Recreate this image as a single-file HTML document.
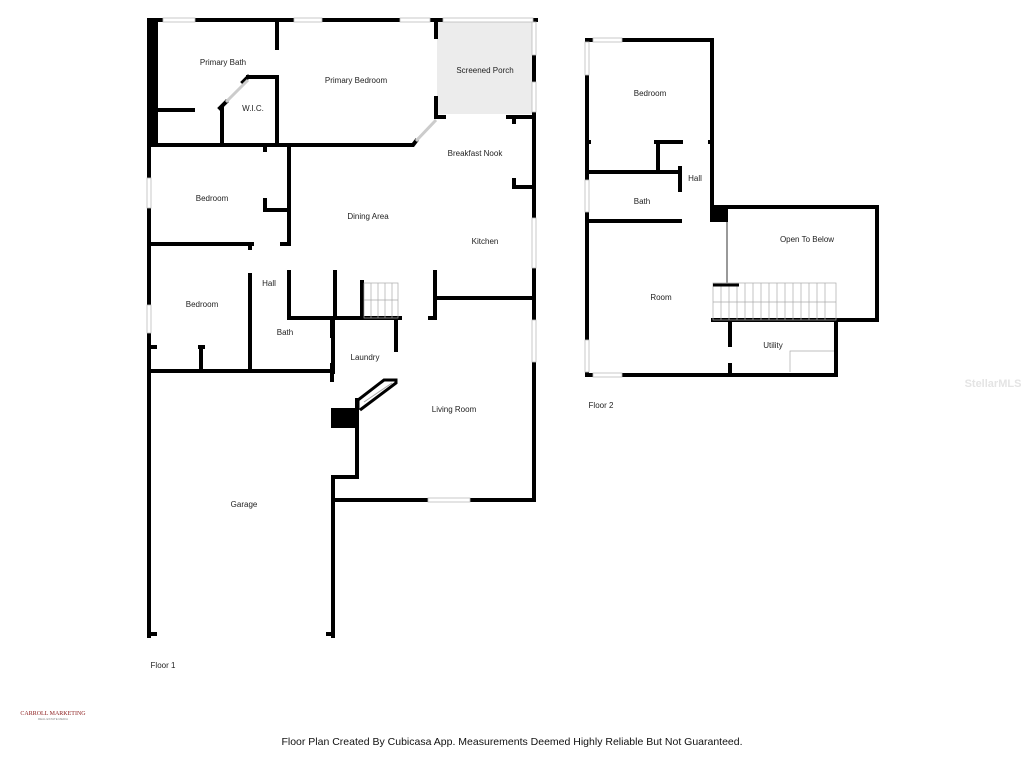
<!DOCTYPE html>
<html><head><style>
body{margin:0;width:1024px;height:768px;background:#fff;overflow:hidden}
text{font-family:"Liberation Sans",sans-serif;font-size:8px;fill:#222;text-anchor:middle}
</style></head><body>
<svg width="1024" height="768" viewBox="0 0 1024 768">
<rect x="437" y="22" width="97" height="92" fill="#ececec"/>
<g stroke="#000" stroke-width="4" fill="none" stroke-linecap="square">
<path d="M149 20 H536 M534 20 V500 M149 20 V636"/>
<rect x="147" y="20" width="11" height="126" fill="#000" stroke="none"/>
<path d="M336 500 H534 M333 477 V636 M333 477 H357 V400"/>
<path d="M149 634 H155 M328 634 H333"/>
<path d="M277 20 V48 M277 77 V145 M248 77 H277 M222 108 V145 M220 108 L226 102 M248 77 L243 82 M158 110 H193"/>
<path d="M150 145 H413 L416 141"/>
<path d="M436 20 V37 M436 98 V117 H444 M508 117 H534 M514 117 V122 M514 180 V187 H534"/>
<path d="M265 145 V150 M265 200 V210 H288 M289 145 V243"/>
<path d="M150 244 H252 M282 244 H289 M250 244 V248 M250 275 V370"/>
<path d="M289 272 V318 H400 M335 272 V318 M362 282 V318 M435 272 V318 H430 M435 298 H534"/>
<path d="M150 371 H333 M333 318 V372 M150 347 H155 M200 347 H203 M201 347 V371"/>
<path d="M396 318 V350 M332 318 V336 M332 365 V380"/>
</g>
<rect x="331" y="408" width="27" height="20" fill="#000"/>
<path d="M358 410 V400 L384 380 H396 V383 L360 410" fill="none" stroke="#000" stroke-width="3"/>
<path d="M364 402 L392 383" stroke="#aaa" stroke-width="1"/>
<g stroke="#aaa" stroke-width="0.7" fill="none">
<rect x="364" y="283" width="34" height="35"/>
<path d="M371 283V318M378 283V318M385 283V318M392 283V318M364 300H398"/>
<path d="M416 141 L436 120" stroke="#ccc" stroke-width="3"/>
<path d="M226 102 L248 80" stroke="#ccc" stroke-width="3"/>
</g>
<g fill="#fff" stroke="#bbb" stroke-width="0.8">
<rect x="163" y="18" width="32" height="4"/><rect x="294" y="18" width="28" height="4"/><rect x="400" y="18" width="30" height="4"/><rect x="443" y="18" width="90" height="4"/>
<rect x="532" y="22" width="4" height="33"/><rect x="532" y="82" width="4" height="30"/><rect x="532" y="218" width="4" height="50"/><rect x="532" y="320" width="4" height="42"/>
<rect x="147" y="178" width="4" height="30"/><rect x="147" y="305" width="4" height="28"/>
<rect x="428" y="498" width="42" height="4"/>
</g>
<g stroke="#000" stroke-width="4" fill="none" stroke-linecap="square">
<path d="M587 40 H712 V220 M587 40 V375 H836 V320 M713 207 H877 V320 H713 M730 320 V345 M730 365 V375"/>
<path d="M587 172 H680 M587 221 H680 M680 168 V190 M658 142 V170 M656 142 H681 M587 142 H589 M710 142 H712"/>
</g>
<rect x="710" y="205" width="18" height="17" fill="#000"/>
<path d="M727 222 V283" stroke="#999" stroke-width="2"/>
<g stroke="#aaa" stroke-width="0.7" fill="none">
<rect x="713" y="283" width="123" height="37"/>
<path d="M721 283V320M729 283V320M737 283V320M745 283V320M753 283V320M761 283V320M769 283V320M777 283V320M785 283V320M793 283V320M801 283V320M809 283V320M817 283V320M825 283V320M713 302H836"/>
<path d="M790 372V351H834"/>
</g>
<path d="M713 285 H739" stroke="#000" stroke-width="3"/>
<g fill="#fff" stroke="#bbb" stroke-width="0.8">
<rect x="593" y="38" width="29" height="4"/><rect x="593" y="373" width="29" height="4"/>
<rect x="585" y="42" width="4" height="33"/><rect x="585" y="180" width="4" height="32"/><rect x="585" y="340" width="4" height="32"/>
</g>
<text x="223" y="65">Primary Bath</text>
<text x="356" y="83">Primary Bedroom</text>
<text x="485" y="73">Screened Porch</text>
<text x="253" y="111">W.I.C.</text>
<text x="475" y="156">Breakfast Nook</text>
<text x="212" y="201">Bedroom</text>
<text x="368" y="219">Dining Area</text>
<text x="485" y="244">Kitchen</text>
<text x="269" y="286">Hall</text>
<text x="202" y="307">Bedroom</text>
<text x="285" y="335">Bath</text>
<text x="365" y="360">Laundry</text>
<text x="454" y="412">Living Room</text>
<text x="244" y="507">Garage</text>
<text x="163" y="668">Floor 1</text>
<text x="650" y="96">Bedroom</text>
<text x="695" y="181">Hall</text>
<text x="642" y="204">Bath</text>
<text x="807" y="242">Open To Below</text>
<text x="661" y="300">Room</text>
<text x="773" y="348">Utility</text>
<text x="601" y="408">Floor 2</text>
<text x="993" y="387" style="fill:#e4e4e4;font-size:11px;font-weight:bold">StellarMLS</text>
<text x="53" y="715" style="fill:#8b1a1a;font-size:6px;font-family:'Liberation Serif',serif">CARROLL MARKETING</text>
<text x="53" y="720" style="fill:#888;font-size:3px">REAL ESTATE MEDIA</text>
<text x="512" y="745" style="font-size:10.5px;fill:#111">Floor Plan Created By Cubicasa App. Measurements Deemed Highly Reliable But Not Guaranteed.</text>
</svg>
</body></html>
